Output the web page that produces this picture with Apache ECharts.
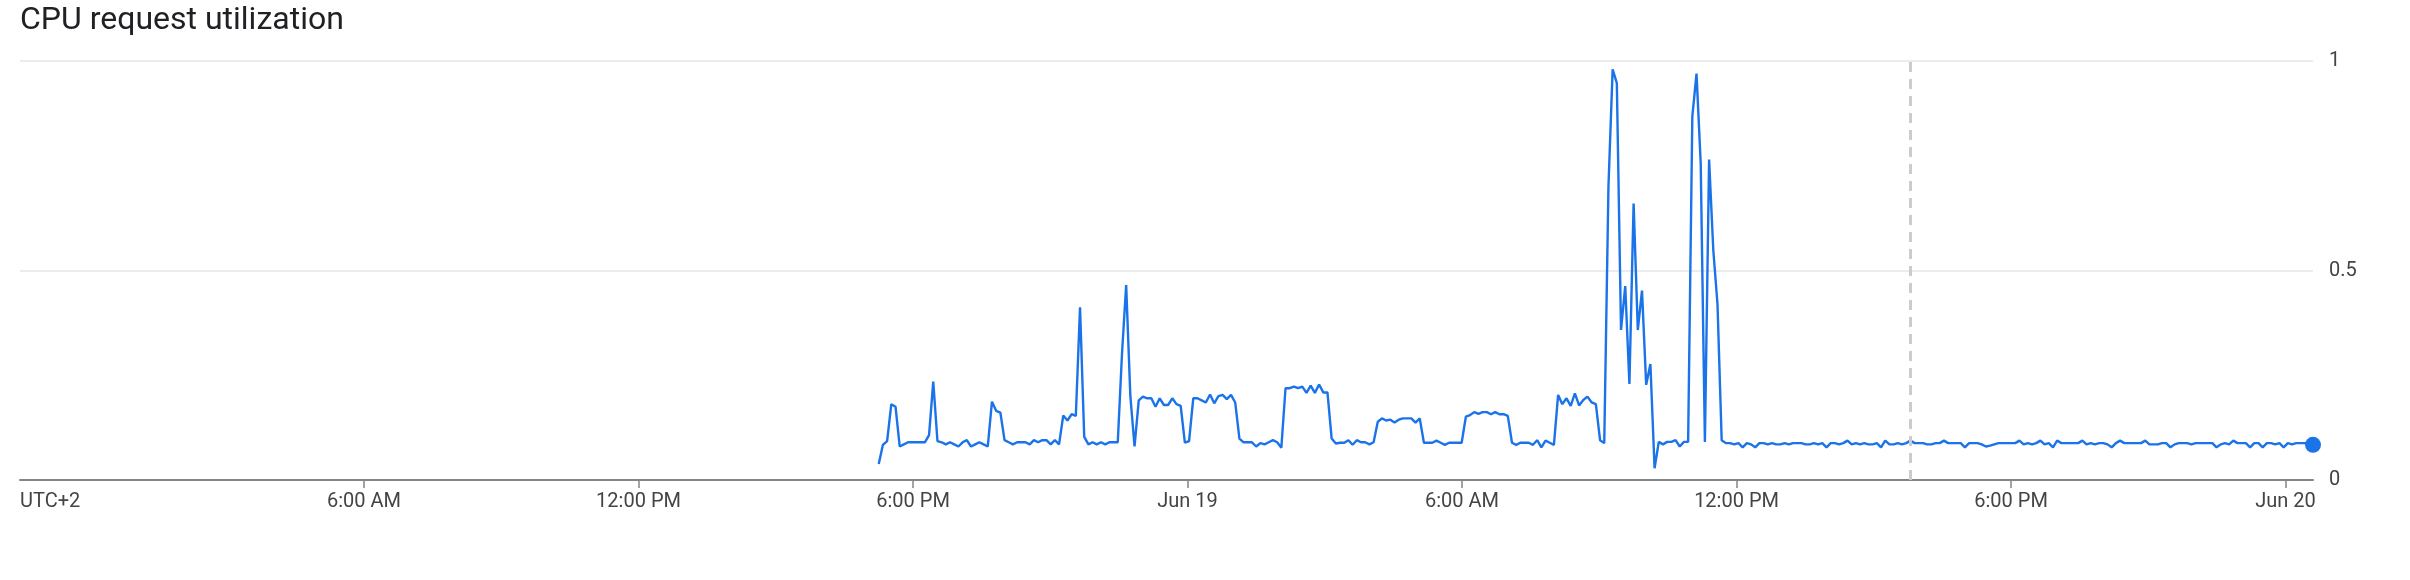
<!DOCTYPE html>
<html>
<head>
<meta charset="utf-8">
<script src="https://cdn.jsdelivr.net/npm/echarts@6/dist/echarts.min.js"></script>
<style>
  html, body { margin: 0; padding: 0; background: #fff; }
  #chart { width: 2410px; height: 580px; }
</style>
</head>
<body>
<div id="chart"></div>
<script>
// ---- data (hours are measured from Jun 18 00:00, UTC+2) ----
const chartTitle = 'CPU request utilization';
const timezoneLabel = 'UTC+2';
const xTickHours = [6, 12, 18, 24, 30, 36, 42, 48];
const xTickLabels = ['6:00 AM', '12:00 PM', '6:00 PM', 'Jun 19', '6:00 AM', '12:00 PM', '6:00 PM', 'Jun 20'];
const yTicks = [0, 0.5, 1];
const viewStartHour = -1.52;     // Jun 17 ~22:29
const viewEndHour = 48.6;        // Jun 20 ~00:36
const seriesStartHour = 17.25;   // Jun 18 17:15
const stepMinutes = 5.5;
const markerHour = 39.8;         // dashed marker, Jun 19 ~15:48

const cpuUtil = [
  0.038,0.084,0.093,0.181,0.175,0.080,0.085,0.090,0.090,0.090,
  0.090,0.090,0.107,0.235,0.093,0.090,0.085,0.090,0.085,0.080,
  0.090,0.095,0.080,0.085,0.090,0.085,0.080,0.187,0.165,0.161,
  0.095,0.090,0.085,0.090,0.090,0.090,0.085,0.095,0.090,0.095,
  0.095,0.085,0.095,0.085,0.154,0.142,0.157,0.153,0.412,0.103,
  0.085,0.090,0.085,0.090,0.085,0.090,0.090,0.090,0.300,0.465,
  0.200,0.080,0.190,0.199,0.195,0.195,0.175,0.195,0.179,0.179,
  0.195,0.181,0.177,0.089,0.093,0.195,0.195,0.190,0.185,0.204,
  0.183,0.200,0.203,0.193,0.203,0.185,0.099,0.090,0.090,0.090,
  0.080,0.088,0.085,0.090,0.095,0.090,0.077,0.219,0.219,0.223,
  0.219,0.223,0.208,0.225,0.208,0.228,0.209,0.209,0.099,0.087,
  0.089,0.089,0.095,0.084,0.095,0.090,0.090,0.085,0.090,0.139,
  0.147,0.142,0.144,0.137,0.144,0.147,0.147,0.147,0.137,0.147,
  0.089,0.089,0.089,0.094,0.089,0.084,0.089,0.089,0.089,0.089,
  0.151,0.155,0.162,0.158,0.162,0.162,0.157,0.162,0.157,0.157,
  0.153,0.089,0.084,0.089,0.089,0.089,0.084,0.095,0.078,0.094,
  0.089,0.084,0.203,0.181,0.195,0.177,0.207,0.178,0.191,0.199,
  0.185,0.181,0.095,0.088,0.700,0.980,0.947,0.358,0.463,
  0.229,0.660,0.358,0.452,0.227,0.277,0.028,0.091,0.085,0.091,
  0.091,0.095,0.080,0.091,0.091,0.867,0.970,0.756,0.091,0.765,
  0.549,0.420,0.095,0.088,
  0.088,0.085,0.088,0.078,0.088,0.085,0.078,0.088,0.088,0.085,
  0.088,0.085,0.085,0.088,0.085,0.088,0.088,0.088,0.085,0.085,
  0.088,0.085,0.088,0.078,0.088,0.088,0.085,0.088,0.094,0.085,
  0.088,0.085,0.088,0.085,0.085,0.088,0.078,0.094,0.085,0.085,
  0.088,0.085,0.088,0.094,0.088,0.088,0.088,0.085,0.085,0.088,
  0.088,0.094,0.088,0.088,0.088,0.088,0.078,0.088,0.088,0.088,
  0.085,0.080,0.082,0.085,0.088,0.088,0.088,0.088,0.088,0.094,
  0.085,0.088,0.085,0.088,0.094,0.085,0.088,0.078,0.094,0.088,
  0.088,0.088,0.088,0.088,0.094,0.085,0.088,0.085,0.088,0.088,
  0.085,0.078,0.088,0.094,0.088,0.088,0.088,0.088,0.088,0.094,
  0.085,0.085,0.085,0.088,0.088,0.078,0.085,0.088,0.088,0.088,
  0.085,0.088,0.088,0.088,0.088,0.088,0.078,0.085,0.088,0.085,
  0.094,0.088,0.088,0.088,0.078,0.088,0.088,0.078,0.088,0.088,
  0.085,0.088,0.078,0.088,0.085,0.088,0.088,0.088,0.086,0.084
];

// ---- build chart ----
const lineData = cpuUtil.map((v, i) => [seriesStartHour + i * stepMinutes / 60, v]);
const lastPoint = lineData[lineData.length - 1];

const labelColor = '#444';
const chart = echarts.init(document.getElementById('chart'), null, { renderer: 'canvas' });
chart.setOption({
  animation: false,
  backgroundColor: '#fff',
  textStyle: { fontFamily: 'Roboto, "Noto Sans", sans-serif' },
  title: {
    text: chartTitle,
    left: 15,
    top: 0,
    textStyle: { fontSize: 32, fontWeight: 'normal', color: '#202124', fontFamily: 'Roboto' }
  },
  grid: {
    left: 20, right: 97, top: 61, bottom: 100,
    containLabel: false, outerBoundsMode: 'none'
  },
  graphic: [{
    type: 'text',
    left: 20,
    top: 492,
    style: { text: timezoneLabel, fill: labelColor, font: '20px Roboto' }
  }],
  xAxis: {
    type: 'value',
    min: viewStartHour,
    max: viewEndHour,
    axisLine: { show: true, lineStyle: { color: '#80868b', width: 2 } },
    axisTick: { show: true, customValues: xTickHours, length: 8, lineStyle: { color: '#80868b', width: 1.5 } },
    axisLabel: {
      customValues: xTickHours,
      formatter: v => xTickLabels[xTickHours.indexOf(Math.round(v))] || '',
      color: labelColor, fontSize: 20, margin: 12, fontFamily: 'Roboto'
    },
    splitLine: { show: false }
  },
  yAxis: {
    type: 'value',
    position: 'right',
    min: 0, max: 1, interval: 0.5,
    axisLine: { show: false },
    axisTick: { show: false },
    axisLabel: {
      customValues: yTicks,
      color: labelColor, fontSize: 20, margin: 16, fontFamily: 'Roboto'
    },
    splitLine: { show: true, lineStyle: { color: '#e6e6e6', width: 1.5 } }
  },
  series: [{
    name: chartTitle,
    type: 'line',
    data: lineData,
    showSymbol: false,
    symbol: 'none',
    lineStyle: { color: '#1a73e8', width: 2.4 },
    itemStyle: { color: '#1a73e8' },
    markLine: {
      silent: true,
      symbol: ['none', 'none'],
      label: { show: false },
      lineStyle: { color: '#cccccc', width: 3, type: [10, 7] },
      data: [{ xAxis: markerHour }]
    },
    z: 3
  }, {
    type: 'scatter',
    data: [lastPoint],
    symbol: 'circle',
    symbolSize: 16,
    itemStyle: { color: '#1a73e8', opacity: 1 },
    z: 4
  }]
});
</script>
</body>
</html>
